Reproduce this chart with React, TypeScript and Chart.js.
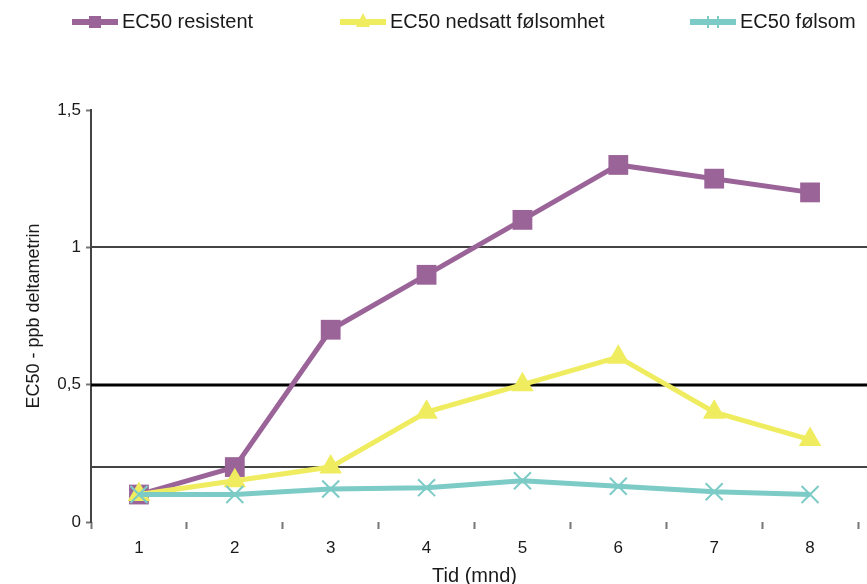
import React, { useEffect, useRef } from "react";
import { Chart, registerables } from "chart.js";

Chart.register(...registerables);

const months = ["1", "2", "3", "4", "5", "6", "7", "8"];
const resistent = [0.1, 0.2, 0.7, 0.9, 1.1, 1.3, 1.25, 1.2];
const nedsatt = [0.1, 0.15, 0.2, 0.4, 0.5, 0.6, 0.4, 0.3];
const folsom = [0.1, 0.1, 0.12, 0.125, 0.15, 0.13, 0.11, 0.1];
const seriesNames = ["EC50 resistent", "EC50 nedsatt følsomhet", "EC50 følsom"];
const refLines = [0.2, 0.5, 1];
const yTitle = "EC50 - ppb deltametrin";
const xTitle = "Tid (mnd)";

const PURPLE = "#9b6499";
const YELLOW = "#efec5f";
const TEAL = "#7ccbc6";
const FONT = "'Liberation Sans', Arial, sans-serif";

const refLinePlugin = {
  id: "refLines",
  beforeDatasetsDraw(chart: any) {
    const { ctx, chartArea, scales } = chart;
    const y = scales.y;
    ctx.save();
    refLines.forEach((v) => {
      const py = Math.round(y.getPixelForValue(v));
      ctx.beginPath();
      ctx.strokeStyle = v === 0.5 ? "#000000" : "#444444";
      ctx.lineWidth = v === 0.5 ? 3 : 2;
      ctx.moveTo(chartArea.left, py);
      ctx.lineTo(chart.width, py);
      ctx.stroke();
    });
    ctx.restore();
  },
};

const legendStarts = [72, 340, 690];
const legendPlugin = {
  id: "customLegend",
  afterDraw(chart: any) {
    const { ctx } = chart;
    const yc = 22;
    ctx.save();
    chart.data.datasets.forEach((ds: any, i: number) => {
      const x0 = legendStarts[i];
      ctx.strokeStyle = ds.borderColor;
      ctx.lineWidth = 6;
      ctx.beginPath();
      ctx.moveTo(x0, yc);
      ctx.lineTo(x0 + 46, yc);
      ctx.stroke();
      const cx = x0 + 23;
      ctx.fillStyle = ds.borderColor;
      if (ds.pointStyle === "rect") {
        ctx.fillRect(cx - 6, yc - 6, 12, 12);
      } else if (ds.pointStyle === "triangle") {
        ctx.beginPath();
        ctx.moveTo(cx, yc - 9);
        ctx.lineTo(cx + 7, yc + 5);
        ctx.lineTo(cx - 7, yc + 5);
        ctx.closePath();
        ctx.fill();
      } else {
        ctx.lineWidth = 2;
        ctx.beginPath();
        ctx.moveTo(cx - 5, yc - 6);
        ctx.lineTo(cx - 5, yc + 6);
        ctx.moveTo(cx + 5, yc - 6);
        ctx.lineTo(cx + 5, yc + 6);
        ctx.stroke();
      }
      ctx.fillStyle = "#1a1a1a";
      ctx.font = `20px ${FONT}`;
      ctx.textBaseline = "middle";
      ctx.textAlign = "left";
      ctx.fillText(ds.label, x0 + 50, yc);
    });
    ctx.restore();
  },
};

export default function App() {
  const canvasRef = useRef<HTMLCanvasElement | null>(null);

  useEffect(() => {
    if (!canvasRef.current) return;
    const chart = new Chart(canvasRef.current, {
      type: "line",
      data: {
        labels: months,
        datasets: [
          {
            label: seriesNames[0],
            data: resistent,
            borderColor: PURPLE,
            backgroundColor: PURPLE,
            borderWidth: 5,
            pointStyle: "rect",
            pointRadius: 14,
            pointBorderWidth: 0,
            pointBackgroundColor: PURPLE,
            order: 3,
            clip: false,
          },
          {
            label: seriesNames[1],
            data: nedsatt,
            borderColor: YELLOW,
            backgroundColor: YELLOW,
            borderWidth: 5,
            pointStyle: "triangle",
            pointRadius: 13,
            pointBorderWidth: 0,
            pointBackgroundColor: YELLOW,
            order: 2,
            clip: false,
          },
          {
            label: seriesNames[2],
            data: folsom,
            borderColor: TEAL,
            backgroundColor: TEAL,
            borderWidth: 5,
            pointStyle: "crossRot",
            pointRadius: 12,
            pointBorderWidth: 2,
            pointBorderColor: TEAL,
            order: 1,
            clip: false,
          },
        ] as any,
      },
      options: {
        animation: false,
        responsive: false,
        maintainAspectRatio: false,
        layout: { autoPadding: false, padding: { left: 0, top: 110, right: 9, bottom: 0 } },
        plugins: {
          legend: { display: false },
          tooltip: { enabled: false },
        },
        elements: { line: { tension: 0 } },
        scales: {
          x: {
            type: "category",
            offset: true,
            border: { display: false },
            grid: {
              offset: true,
              drawOnChartArea: false,
              drawTicks: true,
              tickLength: 7,
              tickColor: "#777777",
              tickWidth: 2,
            },
            ticks: {
              color: "#1a1a1a",
              font: { family: FONT, size: 17 },
              padding: 9,
              maxRotation: 0,
            },
            title: {
              display: true,
              text: xTitle,
              color: "#1a1a1a",
              font: { family: FONT, size: 20, lineHeight: 1 },
              padding: { top: 0, bottom: -2 },
            },
            afterFit(scale: any) {
              scale.height = 62;
              scale.paddingLeft = 0;
              scale.paddingRight = 0;
            },
          },
          y: {
            min: 0,
            max: 1.5,
            border: { display: true, color: "#444444", width: 2 },
            grid: {
              drawOnChartArea: false,
              drawTicks: true,
              tickLength: 5,
              tickColor: "#777777",
              tickWidth: 2,
            },
            ticks: {
              stepSize: 0.5,
              color: "#1a1a1a",
              font: { family: FONT, size: 17 },
              padding: 5,
              callback: (v: any) => String(v).replace(".", ","),
            },
            title: {
              display: true,
              text: yTitle,
              color: "#1a1a1a",
              font: { family: FONT, size: 18, lineHeight: 1 },
              padding: { top: 25, bottom: 0 },
            },
            afterFit(scale: any) {
              scale.width = 91;
            },
          },
        },
      } as any,
      plugins: [refLinePlugin, legendPlugin],
    });
    return () => chart.destroy();
  }, []);

  return (
    <div style={{ position: "absolute", left: 0, top: 0, width: 867, height: 584 }}>
      <canvas ref={canvasRef} width={867} height={584} style={{ display: "block", width: 867, height: 584 }} />
    </div>
  );
}
